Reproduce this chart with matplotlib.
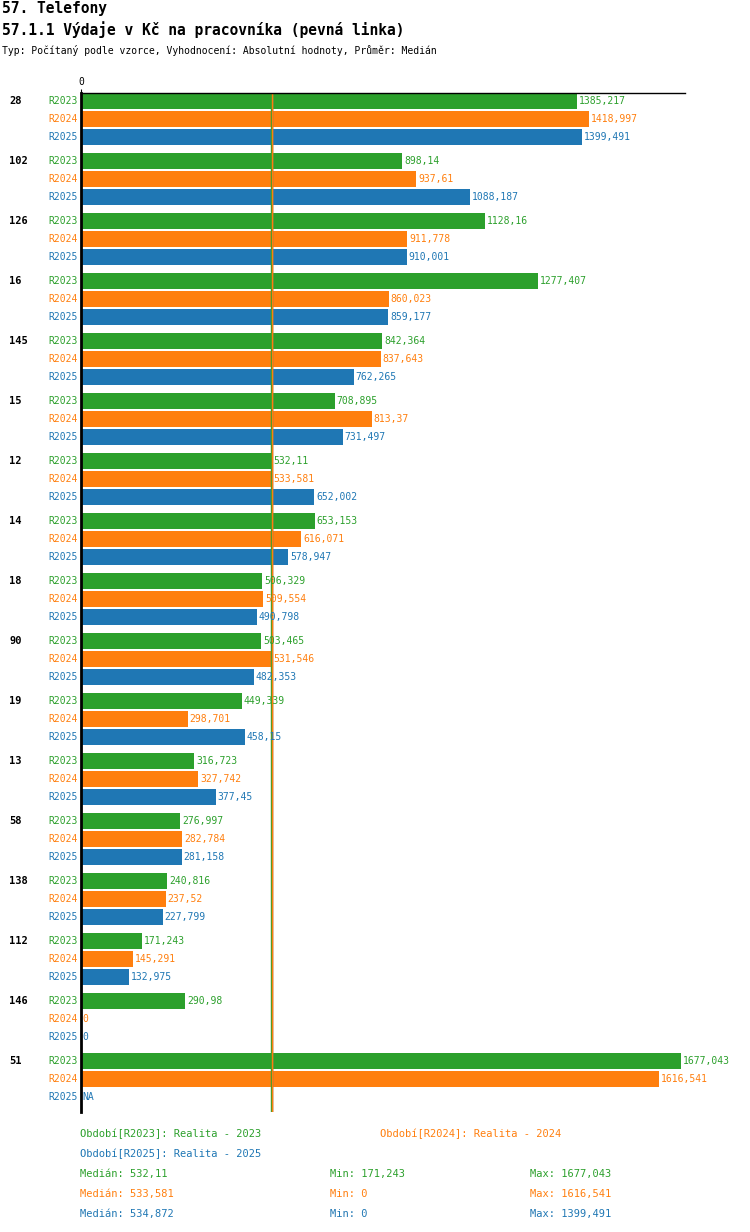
import matplotlib
matplotlib.use("Agg")
import matplotlib.pyplot as plt
import matplotlib.transforms as mtransforms

GROUPS = ["28", "102", "126", "16", "145", "15", "12", "14", "18", "90",
          "19", "13", "58", "138", "112", "146", "51"]
R2023 = [1385.217, 898.14, 1128.16, 1277.407, 842.364, 708.895, 532.11, 653.153,
         506.329, 503.465, 449.339, 316.723, 276.997, 240.816, 171.243, 290.98, 1677.043]
R2024 = [1418.997, 937.61, 911.778, 860.023, 837.643, 813.37, 533.581, 616.071,
         509.554, 531.546, 298.701, 327.742, 282.784, 237.52, 145.291, 0, 1616.541]
R2025 = [1399.491, 1088.187, 910.001, 859.177, 762.265, 731.497, 652.002, 578.947,
         490.798, 482.353, 458.15, 377.45, 281.158, 227.799, 132.975, 0, None]
SERIES = ["R2023", "R2024", "R2025"]
COLORS = ["#2ca02c", "#ff7f0e", "#1f77b4"]
MEDIANS = [532.11, 533.581, 534.872]
MINS = ["171,243", "0", "0"]
MAXS = ["1677,043", "1616,541", "1399,491"]


def fmt(v):
    s = f"{v:.3f}".rstrip("0").rstrip(".")
    return s.replace(".", ",")


plt.rcParams["font.family"] = ["DejaVu Sans Mono"]
W, H = 750, 1232
fig = plt.figure(figsize=(W / 100, H / 100), dpi=100)
top, bot, left, right = 93, 1112, 81, 685
ax = fig.add_axes([left / W, 1 - bot / H, (right - left) / W, (bot - top) / H])
xmax = (right - left) / (600 / 1677.043)
ax.set_xlim(0, xmax)
ax.set_ylim(bot, top)
blend = mtransforms.blended_transform_factory(fig.transFigure, ax.transData)

for i, g in enumerate(GROUPS):
    for j, vals in enumerate([R2023, R2024, R2025]):
        y = 101 + 60 * i + 18 * j
        v = vals[i]
        c = COLORS[j]
        if v is not None and v > 0:
            ax.barh(y, v, height=16, color=c)
        ax.text(78 / W, y, SERIES[j], color=c, fontsize=7, ha="right", va="center",
                transform=blend, clip_on=False)
        lab = "NA" if v is None else fmt(v)
        ax.text((v or 0) + 5, y, lab, color=c, fontsize=7, ha="left", va="center")
    ax.text(9 / W, 101 + 60 * i, g, fontsize=7.5, fontweight="bold", ha="left", va="center",
            transform=blend, clip_on=False)

for m, c in zip(MEDIANS[::-1], COLORS[::-1]):
    ax.axvline(m, color=c, lw=1)
ax.axvline(MEDIANS[1], color=COLORS[1], lw=1)

for s in ["right", "bottom"]:
    ax.spines[s].set_visible(False)
ax.spines["left"].set_linewidth(2)
ax.spines["top"].set_linewidth(1)
ax.set_xticks([0])
ax.set_xticklabels(["0"], fontsize=7)
ax.xaxis.tick_top()
ax.tick_params(axis="x", length=3, pad=1)
ax.set_yticks([])

fig.text(2 / W, 1 - 9 / H, "57. Telefony", fontsize=10.5, fontweight="bold", va="center")
fig.text(2 / W, 1 - 30 / H, "57.1.1 Výdaje v Kč na pracovníka (pevná linka)", fontsize=10.5,
         fontweight="bold", va="center")
fig.text(2 / W, 1 - 51 / H, "Typ: Počítaný podle vzorce, Vyhodnocení: Absolutní hodnoty, Průměr: Medián",
         fontsize=7, va="center")


def t(x, y, s, c):
    fig.text(x / W, 1 - y / H, s, color=c, fontsize=7.5, va="center")


t(80, 1134, "Období[R2023]: Realita - 2023", COLORS[0])
t(380, 1134, "Období[R2024]: Realita - 2024", COLORS[1])
t(80, 1154, "Období[R2025]: Realita - 2025", COLORS[2])
for j in range(3):
    y = 1174 + 20 * j
    t(80, y, f"Medián: {fmt(MEDIANS[j])}", COLORS[j])
    t(330, y, f"Min: {MINS[j]}", COLORS[j])
    t(530, y, f"Max: {MAXS[j]}", COLORS[j])

fig.savefig("out.png", dpi=100)
